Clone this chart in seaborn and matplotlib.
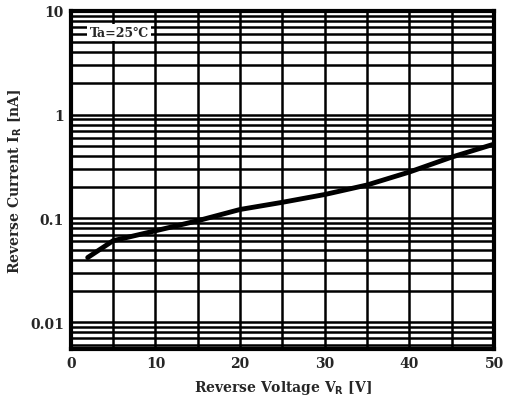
import numpy as np
import pandas as pd
import seaborn as sns
import matplotlib.pyplot as plt
from matplotlib.ticker import LogLocator, MultipleLocator, FixedLocator

# Reverse current vs reverse voltage
voltage = [2, 5, 10, 15, 20, 25, 30, 35, 40, 45, 50]
current = [0.042, 0.061, 0.076, 0.095, 0.122, 0.143, 0.17, 0.21, 0.28, 0.39, 0.52]

x_ticks = [0, 10, 20, 30, 40, 50]
y_ticks = [0.01, 0.1, 1, 10]
y_tick_labels = ['0.01', '0.1', '1', '10']

df = pd.DataFrame({'V': voltage, 'I': current})

sns.set_style('white')
plt.rcParams['font.family'] = ['DejaVu Serif', 'DejaVu Sans']
plt.rcParams['font.weight'] = 'bold'

fig = plt.figure(figsize=(5.13, 4.10), dpi=100)
ax = fig.add_axes([0.138, 0.146, 0.825, 0.825])

sns.lineplot(data=df, x='V', y='I', ax=ax, color='black', linewidth=3.5)

ax.set_yscale('log')
ax.set_xlim(0, 50)
ax.set_ylim(0.0055, 10)

# grid: vertical every 5 V, horizontal on every log minor step
ax.xaxis.set_minor_locator(MultipleLocator(5))
ax.yaxis.set_major_locator(FixedLocator(y_ticks))
ax.yaxis.set_minor_locator(LogLocator(base=10, subs=np.arange(2, 10)))
ax.set_xticks(x_ticks)
ax.set_yticks(y_ticks)
ax.set_yticklabels(y_tick_labels)
ax.grid(True, which='both', color='black', linewidth=1.8)
ax.set_axisbelow(True)
ax.tick_params(which='both', length=0, labelsize=10, pad=5)
for lab in ax.get_xticklabels() + ax.get_yticklabels():
    lab.set_fontweight('bold')

for sp in ax.spines.values():
    sp.set_linewidth(3)
    sp.set_color('black')

ax.set_xlabel('Reverse Voltage V$_\\mathbf{R}$ [V]', fontsize=10, fontweight='bold', labelpad=6)
ax.set_ylabel('Reverse Current I$_\\mathbf{R}$ [nA]', fontsize=10, fontweight='bold', labelpad=4)

ax.text(2.2, 6.2, 'Ta=25℃', fontsize=9, fontweight='bold', va='center', ha='left',
        bbox=dict(facecolor='white', edgecolor='none', pad=1.5))

fig.savefig('out.png', dpi=100)
